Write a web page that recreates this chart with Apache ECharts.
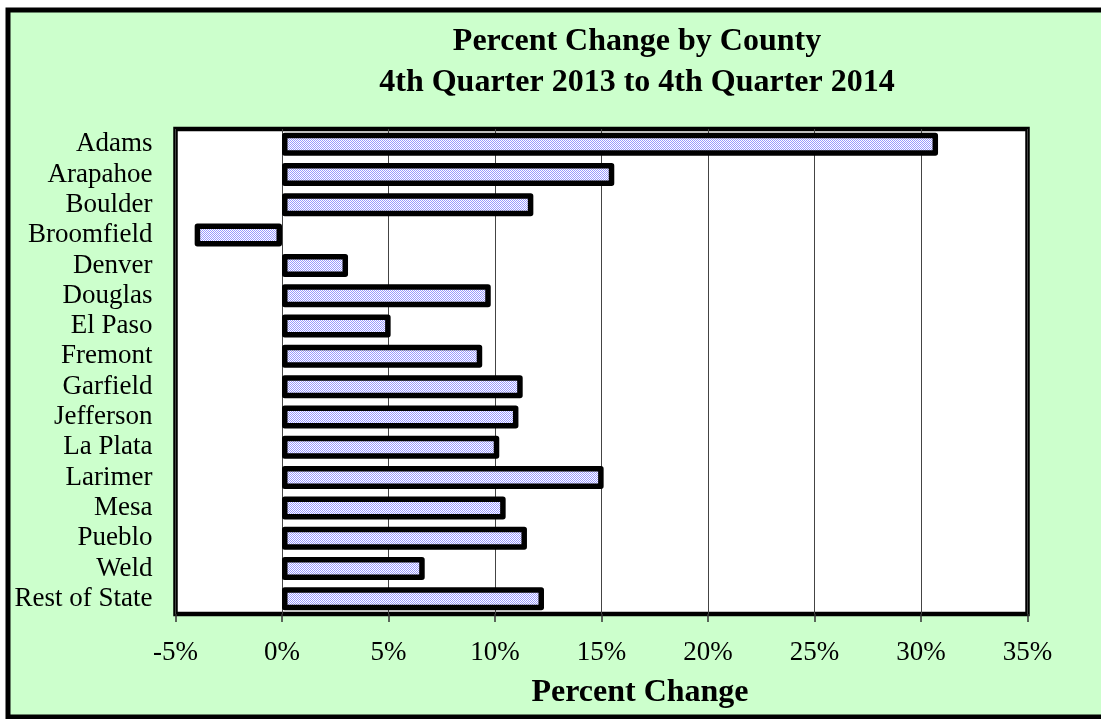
<!DOCTYPE html>
<html>
<head>
<meta charset="utf-8">
<title>Percent Change by County</title>
<script src="https://cdn.jsdelivr.net/npm/echarts@6/dist/echarts.min.js"></script>
<style>
    html,body{margin:0;padding:0;background:#fff;}
    #chart{width:1101px;height:719px;}
</style>
</head>
<body>
<div id="chart"></div>
<script>
// county names, top to bottom
var counties = ['Adams','Arapahoe','Boulder','Broomfield','Denver','Douglas','El Paso','Fremont',
    'Garfield','Jefferson','La Plata','Larimer','Mesa','Pueblo','Weld','Rest of State'];
// percent change, 4th quarter 2013 to 4th quarter 2014
var pctChange = [30.8,15.6,11.8,-4.1,3.1,9.8,5.1,9.4,11.3,11.1,10.2,15.1,10.5,11.5,6.7,12.3];
// x axis range
var xMin = -5, xMax = 35, xStep = 5;

var serif = '"Liberation Serif","Times New Roman",serif';

// small checker pattern for bar fill
function checker(){
    var c = document.createElement('canvas');
    c.width = 2; c.height = 2;
    var ctx = c.getContext('2d');
    ctx.fillStyle = '#ffffff';
    ctx.fillRect(0,0,2,2);
    ctx.fillStyle = '#9999ff';
    ctx.fillRect(0,0,1,1);
    ctx.fillRect(1,1,1,1);
    return c;
}

var myChart = echarts.init(document.getElementById('chart'));
var option = {
    backgroundColor: '#ffffff',
    animation: false,
    graphic: [{
        type: 'rect',
        z: -10,
        shape: {x: 8, y: 10, width: 1100, height: 707},
        style: {fill: '#ccffcc', stroke: '#000', lineWidth: 5}
    }],
    title: [{
        text: 'Percent Change by County\n4th Quarter 2013 to 4th Quarter 2014',
        left: 637,
        top: 21,
        textAlign: 'center',
        padding: 0,
        textStyle: {
            fontFamily: serif,
            fontSize: 32,
            fontWeight: 'bold',
            color: '#000',
            lineHeight: 41
        }
    },{
        text: 'Percent Change',
        left: 640,
        top: 677,
        textAlign: 'center',
        padding: 0,
        textStyle: {
            fontFamily: serif,
            fontSize: 32,
            fontWeight: 'bold',
            color: '#000',
            lineHeight: 32
        }
    }],
    grid: {
        show: true,
        left: 175.5,
        right: 73.5,
        top: 129,
        height: 485,
        backgroundColor: '#ffffff',
        borderColor: '#000',
        borderWidth: 4.5
    },
    xAxis: {
        type: 'value',
        min: xMin,
        max: xMax,
        interval: xStep,
        axisLine: {show: false},
        axisTick: {show: true, length: 8, lineStyle: {color: '#333', width: 1.5}},
        splitLine: {show: true, lineStyle: {color: '#444', width: 1}},
        axisLabel: {
            formatter: '{value}%',
            fontFamily: serif,
            fontSize: 27,
            lineHeight: 28,
            color: '#000',
            margin: 25
        }
    },
    yAxis: {
        type: 'category',
        inverse: true,
        data: counties,
        axisLine: {show: false},
        axisTick: {show: false},
        splitLine: {show: false},
        axisLabel: {
            interval: 0,
            fontFamily: serif,
            fontSize: 27,
            color: '#000',
            margin: 23
        }
    },
    series: [{
        type: 'bar',
        data: pctChange,
        barWidth: 23,
        itemStyle: {
            color: {image: checker(), repeat: 'repeat'},
            borderColor: '#000',
            borderWidth: 5.5,
            borderJoin: 'round'
        }
    }]
};
myChart.setOption(option);
</script>
</body>
</html>
